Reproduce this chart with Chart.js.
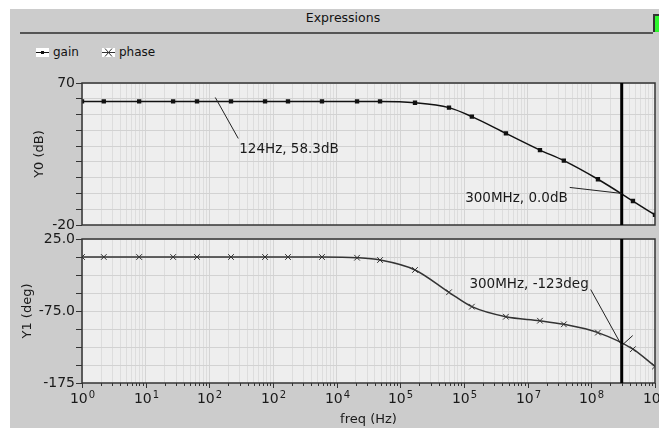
<!DOCTYPE html>
<html>
<head>
<meta charset="utf-8">
<script src="https://cdn.jsdelivr.net/npm/chart.js@4"></script>
<style>
  body { margin: 0; width: 659px; height: 428px; overflow: hidden; background: #fff; font-family: "DejaVu Sans", sans-serif; }
  #panel { position: absolute; left: 10px; top: 9px; width: 649px; height: 419px; background: #cccccc; }
  #title { position: absolute; left: 0; width: 686px; top: 10px; text-align: center; font-size: 12.5px; color: #111; }
  #rule { position: absolute; left: 20px; top: 32px; width: 633px; border-top: 2px solid #555; }
  #led { position: absolute; left: 653px; top: 14px; width: 8px; height: 18px; background: #2df52d; border-left: 2px solid #333; border-top: 2px solid #333; box-sizing: border-box; }
  .leg { position: absolute; top: 45px; font-size: 12px; color: #111; }
  .leg svg { vertical-align: -1px; background: #fff; margin-right: 4px; }
  canvas { position: absolute; left: 0; top: 0; }
</style>
</head>
<body>
<div id="panel"></div>
<div id="title">Expressions</div>
<div id="rule"></div>
<div id="led"></div>
<div class="leg" style="left:36px"><svg width="13" height="9"><line x1="0" y1="4.5" x2="13" y2="4.5" stroke="#111"/><rect x="5" y="3" width="3" height="3" fill="#111"/></svg>gain</div>
<div class="leg" style="left:102px"><svg width="13" height="9"><line x1="0" y1="4.5" x2="13" y2="4.5" stroke="#333"/><path d="M3 0.5 L10 8.5 M10 0.5 L3 8.5" stroke="#333"/></svg>phase</div>
<canvas id="gainChart" width="659" height="428"></canvas>
<canvas id="phaseChart" width="659" height="428"></canvas>
<script>
// frequencies of the marked points (Hz)
const freqHz = [1, 2.2, 7.9, 27, 64, 219, 750, 1720, 5880, 20900, 48000, 170000, 581000, 1.33e6, 4.55e6, 1.56e7, 3.7e7, 1.27e8, 4.5e8, 1e9];
const gainDb = [58.3, 58.3, 58.3, 58.3, 58.3, 58.3, 58.3, 58.3, 58.3, 58.3, 58.3, 57.5, 54.4, 48.7, 38.1, 27.5, 20.8, 9.0, -4.8, -13.6];
const phaseDeg = [0, 0, 0, 0, 0, 0, 0, 0, 0, -1, -4.2, -18, -49, -69, -83, -88.5, -93.5, -105, -128, -152];

// decade labels as shown on the axis (base, exponent)
const xTickBase = '10';
const xTickExp = ['0', '1', '2', '2', '4', '5', '5', '7', '8', '9'];
const gainTickLabels = { '70': '70', '-20': '-20' };
const phaseTickLabels = { '25': '25.0', '-75': '-75.0', '-175': '-175' };

const cursorHz = 3e8;
const gainNotes = [
  { hz: 124, val: 58.3, text: '124Hz, 58.3dB' },
  { hz: 3e8, val: 0.0, text: '300MHz, 0.0dB' }
];
const phaseNotes = [
  { hz: 3e8, val: -123, text: '300MHz, -123deg' }
];

Chart.defaults.font.family = '"DejaVu Sans", sans-serif';
Chart.defaults.font.size = 13;
Chart.defaults.color = '#1a1a1a';
Chart.defaults.animation = false;

const isDecade = v => {
  const k = Math.round(Math.log10(v));
  return Math.abs(v / Math.pow(10, k) - 1) < 1e-6;
};

const frame = {
  id: 'frame',
  beforeDraw(chart) {
    const { ctx, chartArea: a } = chart;
    ctx.save();
    ctx.fillStyle = '#eeeeee';
    ctx.fillRect(a.left, a.top, a.width, a.height);
    ctx.restore();
  },
  afterDatasetsDraw(chart, args, opts) {
    const { ctx, chartArea: a } = chart;
    const xs = chart.scales.x, ys = chart.scales.y;
    ctx.save();
    // tick marks and decade labels under the bottom plot
    if (opts.xTicks) {
      ctx.strokeStyle = '#333';
      ctx.lineWidth = 1;
      ctx.fillStyle = '#1a1a1a';
      ctx.textBaseline = 'alphabetic';
      xs.ticks.forEach(t => {
        const px = Math.round(xs.getPixelForValue(t.value)) + 0.5;
        const major = isDecade(t.value);
        ctx.beginPath();
        ctx.moveTo(px, a.bottom);
        ctx.lineTo(px, a.bottom + (major ? 5 : 3));
        ctx.stroke();
        if (major) {
          const exp = xTickExp[Math.round(Math.log10(t.value))];
          ctx.font = '14px "DejaVu Sans", sans-serif';
          const wb = ctx.measureText(xTickBase).width;
          ctx.font = '10px "DejaVu Sans", sans-serif';
          const we = ctx.measureText(exp).width;
          const x0 = px - (wb + 1 + we) / 2;
          ctx.textAlign = 'left';
          ctx.font = '14px "DejaVu Sans", sans-serif';
          ctx.fillText(xTickBase, x0, a.bottom + 20);
          ctx.font = '10px "DejaVu Sans", sans-serif';
          ctx.fillText(exp, x0 + wb + 1, a.bottom + 15);
        }
      });
    }
    // frame
    ctx.strokeStyle = '#333';
    ctx.lineWidth = 1.5;
    ctx.strokeRect(a.left, a.top, a.width, a.height);
    // cursor
    const cx = xs.getPixelForValue(cursorHz);
    ctx.strokeStyle = '#000';
    ctx.lineWidth = 3;
    ctx.beginPath();
    ctx.moveTo(cx, a.top);
    ctx.lineTo(cx, a.bottom);
    ctx.stroke();
    // notes with leader lines
    ctx.font = '13.5px "DejaVu Sans", sans-serif';
    ctx.fillStyle = '#1a1a1a';
    ctx.textBaseline = 'middle';
    ctx.lineWidth = 1;
    ctx.strokeStyle = '#222';
    opts.notes.forEach((n, i) => {
      const L = opts.layout[i];
      const px = xs.getPixelForValue(n.hz), py = ys.getPixelForValue(n.val);
      ctx.beginPath();
      ctx.moveTo(px, py - (L.lift || 0));
      ctx.lineTo(px + L.dx, py + L.dy);
      if (L.arm) {
        ctx.moveTo(px, py);
        ctx.lineTo(px + L.arm[0], py + L.arm[1]);
      }
      ctx.stroke();
      ctx.textAlign = L.align;
      ctx.fillText(n.text, px + L.tx, py + L.ty);
    });
    ctx.restore();
  }
};

function xAxis(bottom) {
  return {
    type: 'logarithmic',
    min: 1,
    max: 1e9,
    afterBuildTicks(scale) {
      const t = [];
      for (let k = 0; k <= 9; k++) {
        for (let m = 1; m <= 9; m++) {
          const v = m * Math.pow(10, k);
          if (v <= 1e9 * 1.0001) t.push({ value: v });
        }
      }
      scale.ticks = t;
    },
    afterFit(scale) { scale.height = bottom ? 45 : 0; },
    border: { display: false },
    grid: {
      drawTicks: false,
      color: c => (c.tick && isDecade(c.tick.value)) ? '#d4d4d4' : '#dddddd',
      lineWidth: 1
    },
    ticks: { display: false },
    title: {
      display: bottom,
      text: 'freq (Hz)',
      font: { size: 13 },
      padding: { top: 0, bottom: 1 }
    }
  };
}

function yAxis(min, max, step, labels, title, titlePad) {
  return {
    min: min,
    max: max,
    afterFit(scale) { scale.width = 82; },
    border: { display: false },
    grid: { color: '#d2d2d2', lineWidth: 1, tickLength: 6, tickColor: '#333' },
    ticks: {
      stepSize: step,
      autoSkip: false,
      padding: 1,
      font: { size: 14 },
      callback: v => labels[String(v)] || ''
    },
    title: { display: true, text: title, font: { size: 13 }, padding: { top: titlePad, bottom: 0 } }
  };
}

new Chart(document.getElementById('gainChart'), {
  type: 'line',
  data: {
    datasets: [{
      label: 'gain',
      data: freqHz.map((f, i) => ({ x: f, y: gainDb[i] })),
      borderColor: '#111',
      borderWidth: 1.5,
      pointStyle: 'rect',
      pointRadius: 2,
      pointBackgroundColor: '#111',
      pointBorderColor: '#111',
      cubicInterpolationMode: 'monotone'
    }]
  },
  options: {
    responsive: false,
    devicePixelRatio: 1,
    layout: { autoPadding: false, padding: { left: 0, top: 83, right: 4, bottom: 203 } },
    plugins: {
      legend: { display: false },
      tooltip: { enabled: false },
      frame: {
        notes: gainNotes,
        layout: [
          { dx: 23, dy: 37, lift: 4, tx: 24, ty: 48, align: 'left' },
          { dx: -52, dy: -6, tx: -54, ty: 5, align: 'right' }
        ]
      }
    },
    scales: { x: xAxis(false), y: yAxis(-20, 70, 10, gainTickLabels, 'Y0 (dB)', 32) }
  },
  plugins: [frame]
});

new Chart(document.getElementById('phaseChart'), {
  type: 'line',
  data: {
    datasets: [{
      label: 'phase',
      data: freqHz.map((f, i) => ({ x: f, y: phaseDeg[i] })),
      borderColor: '#333',
      borderWidth: 1.5,
      pointStyle: 'crossRot',
      pointRadius: 4,
      pointBorderColor: '#333',
      pointBorderWidth: 1,
      cubicInterpolationMode: 'monotone'
    }]
  },
  options: {
    responsive: false,
    devicePixelRatio: 1,
    layout: { autoPadding: false, padding: { left: 0, top: 239, right: 4, bottom: 0 } },
    plugins: {
      legend: { display: false },
      tooltip: { enabled: false },
      frame: {
        xTicks: true,
        notes: phaseNotes,
        layout: [
          { dx: -31, dy: -56, arm: [11, -10], tx: -33, ty: -61, align: 'right' }
        ]
      }
    },
    scales: { x: xAxis(true), y: yAxis(-175, 25, 25, phaseTickLabels, 'Y1 (deg)', 20) }
  },
  plugins: [frame]
});
</script>
</body>
</html>
